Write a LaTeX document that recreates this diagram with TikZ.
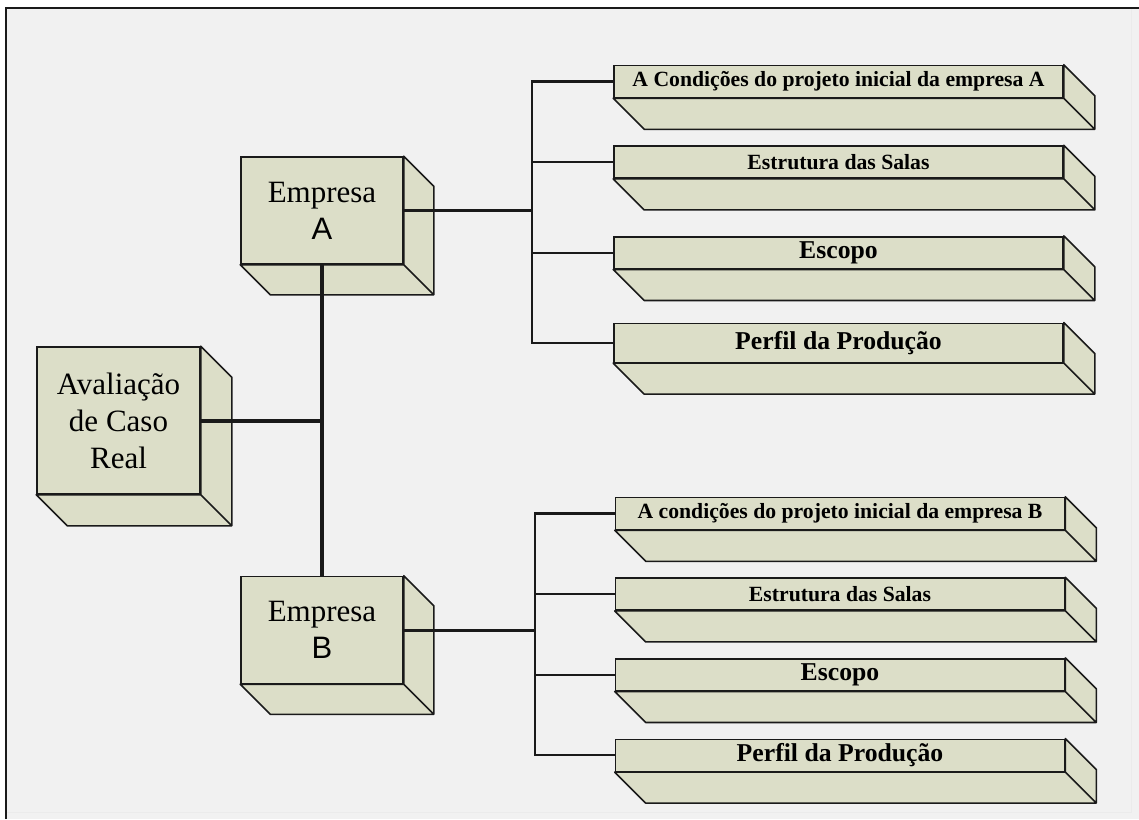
\documentclass[tikz,border=0pt]{standalone}
\usepackage{fontspec}
\setmainfont{Liberation Serif}
\setsansfont{Liberation Sans}
\usepackage{tikz}
\usetikzlibrary{positioning}
\definecolor{caixa}{HTML}{DCDEC8}
\definecolor{fundo}{HTML}{F1F1F1}
\definecolor{traco}{HTML}{1A1A1A}
\tikzset{x=1pt,y=-1pt,
  bloco/.style={draw=traco,fill=caixa,line width=1.6pt,inner sep=0pt,align=center},
  cubo/.style={bloco,minimum width=162pt,minimum height=107pt,font=\fontsize{31}{37}\selectfont},
  barra/.style={bloco,minimum width=449pt,minimum height=32pt,font=\bfseries\fontsize{21.7}{25}\selectfont},
  barragrande/.style={barra,font=\bfseries\fontsize{25.7}{30}\selectfont},
  lado/.style={fill=caixa,draw=traco,line width=1.6pt,line join=round},
  tronco/.style={draw=traco,line width=4pt},
  ramo/.style={draw=traco,line width=3pt},
  folha/.style={draw=traco,line width=2.3pt}}

\begin{document}
\begin{tikzpicture}
\useasboundingbox (0,0) rectangle (1139,819);
\fill[fundo] (6,8) rectangle (1139,819);
\draw[black!8,line width=1pt] (1131,8) -- (1131,812) -- (6,812);
\draw[traco,line width=2pt] (6,819) -- (6,8) -- (1139,8);

\node[cubo,minimum width=163pt,minimum height=147pt] (aval) at (118.5,420.5) {Avaliação\\de Caso\\Real};
\node[cubo] (empA) at (322,210.5) {Empresa\\\textsf{A}};
\node[cubo] (empB) at (322,630) {Empresa\\\textsf{B}};

\node[barra] (a1) at (838.5,81.5) {A Condições do projeto inicial da empresa A};
\node[barra,below=47pt of a1] (a2) {Estrutura das Salas};
\node[barragrande,below=57pt of a2] (a3) {Escopo};
\node[barragrande,minimum height=39pt,below=53pt of a3] (a4) {Perfil da Produção};

\node[barra] (b1) at (840,513.5) {A condições do projeto inicial da empresa B};
\node[barra,below=47pt of b1] (b2) {Estrutura das Salas};
\node[barragrande,below=47pt of b2] (b3) {Escopo};
\node[barragrande,below=47pt of b3] (b4) {Perfil da Produção};

\foreach \n/\prof in {aval/31,empA/30,empB/30,a1/31,a2/31,a3/31,a4/31,b1/31,b2/31,b3/31,b4/31}
  \draw[lado] (\n.north east) -- ++(\prof,\prof) -- ([shift={(\prof,\prof)}]\n.south east)
    -- ([shift={(\prof,\prof)}]\n.south west) -- (\n.south west) -- (\n.south east) -- cycle
    (\n.south east) -- ++(\prof,\prof);

\coordinate (busA) at (532,0);
\coordinate (busB) at (535,0);

\draw[tronco] (empA.south) -- (empB.north);
\draw[tronco] (aval.east) -- (aval.east -| empA.south);

\draw[ramo] (empA.east) -- (empA.east -| busA);
\draw[folha] (a1.west) -| (busA |- a4.west) -- (a4.west);
\draw[folha] (busA |- a2.west) -- (a2.west) (busA |- a3.west) -- (a3.west);

\draw[ramo] (empB.east) -- (empB.east -| busB);
\draw[folha] (b1.west) -| (busB |- b4.west) -- (b4.west);
\draw[folha] (busB |- b2.west) -- (b2.west) (busB |- b3.west) -- (b3.west);
\end{tikzpicture}
\end{document}
